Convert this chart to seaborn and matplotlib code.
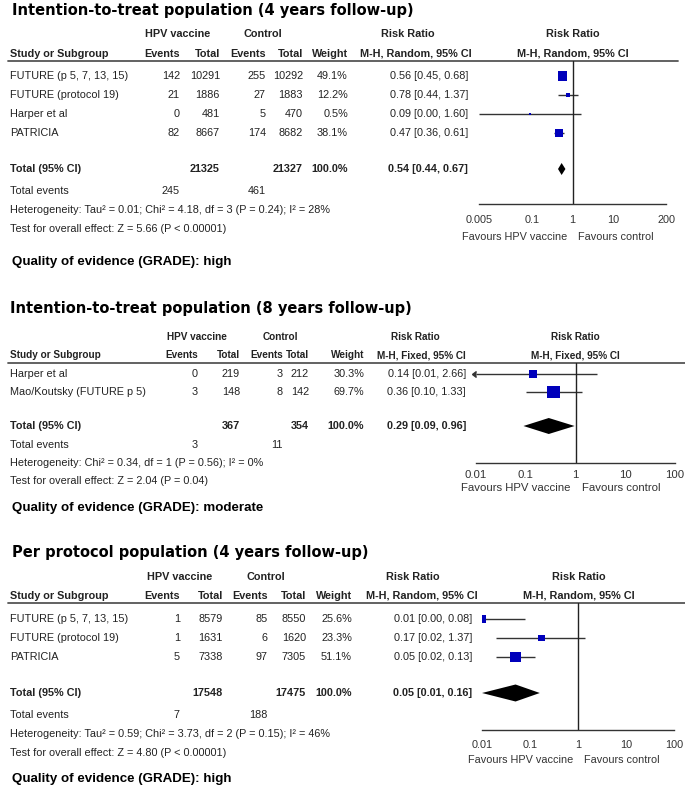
import numpy as np
import pandas as pd
import matplotlib
matplotlib.use("Agg")
import matplotlib.pyplot as plt
import seaborn as sns
from matplotlib.ticker import NullLocator

sns.set_style("white")

# ---- data: ITT 4 years ----
itt4_study = ["FUTURE (p 5, 7, 13, 15)", "FUTURE (protocol 19)", "Harper et al", "PATRICIA"]
itt4_vac_events = [142, 21, 0, 82]
itt4_vac_total = [10291, 1886, 481, 8667]
itt4_ctl_events = [255, 27, 5, 174]
itt4_ctl_total = [10292, 1883, 470, 8682]
itt4_weight = [49.1, 12.2, 0.5, 38.1]
itt4_rr = [0.56, 0.78, 0.09, 0.47]
itt4_lo = [0.45, 0.44, 0.00, 0.36]
itt4_hi = [0.68, 1.37, 1.60, 0.61]
itt4_pooled = [0.54, 0.44, 0.67]
itt4_totals = [21325, 21327]
itt4_events = [245, 461]

# ---- data: ITT 8 years ----
itt8_study = ["Harper et al", "Mao/Koutsky (FUTURE p 5)"]
itt8_vac_events = [0, 3]
itt8_vac_total = [219, 148]
itt8_ctl_events = [3, 8]
itt8_ctl_total = [212, 142]
itt8_weight = [30.3, 69.7]
itt8_rr = [0.14, 0.36]
itt8_lo = [0.01, 0.10]
itt8_hi = [2.66, 1.33]
itt8_pooled = [0.29, 0.09, 0.96]
itt8_totals = [367, 354]
itt8_events = [3, 11]

# ---- data: per protocol 4 years ----
pp4_study = ["FUTURE (p 5, 7, 13, 15)", "FUTURE (protocol 19)", "PATRICIA"]
pp4_vac_events = [1, 1, 5]
pp4_vac_total = [8579, 1631, 7338]
pp4_ctl_events = [85, 6, 97]
pp4_ctl_total = [8550, 1620, 7305]
pp4_weight = [25.6, 23.3, 51.1]
pp4_rr = [0.01, 0.17, 0.05]
pp4_lo = [0.00, 0.02, 0.02]
pp4_hi = [0.08, 1.37, 0.13]
pp4_pooled = [0.05, 0.01, 0.16]
pp4_totals = [17548, 17475]
pp4_events = [7, 188]

W, H = 685, 793
fig = plt.figure(figsize=(W / 100, H / 100), dpi=100)
bg = fig.add_axes([0, 0, 1, 1])
bg.set_xlim(0, W)
bg.set_ylim(H, 0)
bg.axis("off")

SANS = "Liberation Sans"
TITLE = "DejaVu Sans"
TXT = "#222222"
BLUE = "#0000bb"


def txt(x, y, s, ha="left", size=7.8, bold=False, family=SANS, color=TXT):
    bg.text(x, y, s, ha=ha, va="center", fontsize=size, family=family,
            fontweight="bold" if bold else "normal", color=color)


def panel(title, method, study, ve, vt, ce, ct, wt, rr, lo, hi, pooled, totals, events,
          het, test, grade, L):
    f, fs, hs = SANS, L["fs"], L["hs"]
    txt(L["tx"], L["title_y"], title, size=10.5, bold=True, family=TITLE, color="black")
    # header
    txt(L["hpv_c"], L["h1_y"], "HPV vaccine", "center", hs, True, f)
    txt(L["ctl_c"], L["h1_y"], "Control", "center", hs, True, f)
    txt(L["rrh_c"], L["h1_y"], "Risk Ratio", "center", hs, True, f)
    txt(L["frh_c"], L["h1_y"], "Risk Ratio", "center", hs, True, f)
    txt(10, L["h2_y"], "Study or Subgroup", "left", hs, True, f)
    c = L["cols"]
    for x, s in zip(c[:5], ["Events", "Total", "Events", "Total", "Weight"]):
        txt(x, L["h2_y"], s, "right", hs, True, f)
    txt(L["rrs_r"], L["h2_y"], method, "right", hs, True, f)
    txt(L["frh_c"], L["h2_y"], method, "center", hs, True, f)
    bg.plot([8, L["line_x1"]], [L["line_y"], L["line_y"]], color="#555555", lw=1.3)

    rows = np.arange(len(study))
    ys = L["row0"] + rows * L["step"]
    for i, y in enumerate(ys):
        txt(10, y, study[i], "left", fs, False, f)
        vals = [ve[i], vt[i], ce[i], ct[i], f"{wt[i]:.1f}%"]
        for x, v in zip(c[:5], vals):
            txt(x, y, str(v), "right", fs, False, f)
        txt(c[5], y, f"{rr[i]:.2f} [{lo[i]:.2f}, {hi[i]:.2f}]", "right", fs, False, f)
    ty = L["total_y"]
    txt(10, ty, "Total (95% CI)", "left", fs, True, f)
    txt(c[1], ty, str(totals[0]), "right", fs, True, f)
    txt(c[3], ty, str(totals[1]), "right", fs, True, f)
    txt(c[4], ty, "100.0%", "right", fs, True, f)
    txt(c[5], ty, f"{pooled[0]:.2f} [{pooled[1]:.2f}, {pooled[2]:.2f}]", "right", fs, True, f)
    txt(10, L["te_y"], "Total events", "left", fs, False, f)
    txt(c[0], L["te_y"], str(events[0]), "right", fs, False, f)
    txt(c[2], L["te_y"], str(events[1]), "right", fs, False, f)
    txt(10, L["het_y"], het, "left", fs, False, f)
    txt(10, L["test_y"], test, "left", fs, False, f)
    txt(12, L["q_y"], grade, "left", 9.6, True, SANS, "black")

    # forest plot axes, rows in index units
    x0, x1, y0, y1 = L["box"]
    ax = fig.add_axes([x0 / W, 1 - y1 / H, (x1 - x0) / W, (y1 - y0) / H])
    ax.patch.set_alpha(0)
    ax.set_xscale("log")
    xmin, xmax = L["xlim"]
    ax.set_xlim(xmin, xmax)
    step = L["step"]
    ax.set_ylim((y1 - L["row0"]) / step, (y0 - L["row0"]) / step)
    t_idx = (ty - L["row0"]) / step

    df = pd.DataFrame({"rr": rr, "row": rows, "weight": wt})
    sizes = {w: (max(L["k"] * np.sqrt(w), 2) * 0.72) ** 2 for w in wt}
    ax.hlines(rows, np.clip(lo, xmin, xmax), np.clip(hi, xmin, xmax), color="#333333", lw=1, zorder=2)
    sns.scatterplot(data=df, x="rr", y="row", size="weight", sizes=sizes, marker="s",
                    color=BLUE, linewidth=0, legend=False, ax=ax, zorder=3)
    if L["arrows"]:
        for r, l in zip(rows, lo):
            if l <= xmin:
                ax.plot(xmin, r, marker=8, ms=4, color="#333333", clip_on=False)
    dh = L["dh"] / 2 / step
    est, dlo, dhi = pooled
    ax.fill([dlo, est, dhi, est], [t_idx, t_idx - dh, t_idx, t_idx + dh], color="black", lw=0)
    ax.axvline(1, color="#222222", lw=1)

    ax.set_xticks(L["ticks"])
    ax.set_xticklabels(L["ticklabels"])
    ax.xaxis.set_minor_locator(NullLocator())
    ax.set_yticks([])
    ax.set_xlabel("")
    ax.set_ylabel("")
    for s in ["top", "left", "right"]:
        ax.spines[s].set_visible(False)
    ax.spines["bottom"].set_color("#333333")
    ax.spines["bottom"].set_linewidth(1)
    ax.tick_params(axis="x", direction="inout", length=8, width=1, colors="#333333",
                   labelsize=L["tfs"], pad=L["pad"])
    for lab in ax.get_xticklabels():
        lab.set_family(f)
    ax.annotate("Favours HPV vaccine", xy=(1, 0), xycoords=("data", "axes fraction"),
                xytext=(-5, -L["fav_off"]), textcoords="offset pixels", ha="right", va="center",
                fontsize=L["tfs"], family=f, color="#333333")
    ax.annotate("Favours control", xy=(1, 0), xycoords=("data", "axes fraction"),
                xytext=(6, -L["fav_off"]), textcoords="offset pixels", ha="left", va="center",
                fontsize=L["tfs"], family=f, color="#333333")


L1 = dict(fs=7.8, hs=7.8, tx=12, title_y=10, h1_y=34, h2_y=54, line_y=61, line_x1=678,
          row0=76, step=19, total_y=169, te_y=191, het_y=210, test_y=229, q_y=262,
          hpv_c=178, ctl_c=263, rrh_c=408, frh_c=573, rrs_r=472,
          cols=[180, 220, 266, 303, 348, 468],
          box=(479, 666, 61, 204), xlim=(0.005, 200), ticks=[0.005, 0.1, 1, 10, 200],
          ticklabels=["0.005", "0.1", "1", "10", "200"], k=1.35, dh=12, arrows=False,
          tfs=7.8, pad=4, fav_off=33)
L2 = dict(fs=7.8, hs=7.2, tx=10, title_y=309, h1_y=337, h2_y=355, line_y=363, line_x1=685,
          row0=374, step=18, total_y=426, te_y=445, het_y=463, test_y=481, q_y=508,
          hpv_c=197, ctl_c=280, rrh_c=415, frh_c=575, rrs_r=466,
          cols=[198, 240, 283, 309, 364, 466],
          box=(476, 675, 363, 463), xlim=(0.01, 100), ticks=[0.01, 0.1, 1, 10, 100],
          ticklabels=["0.01", "0.1", "1", "10", "100"], k=1.5, dh=16, arrows=True,
          tfs=8.2, pad=1, fav_off=25)
L3 = dict(fs=7.8, hs=7.8, tx=12, title_y=552, h1_y=577, h2_y=596, line_y=603, line_x1=685,
          row0=619, step=19, total_y=693, te_y=715, het_y=734, test_y=753, q_y=779,
          hpv_c=180, ctl_c=266, rrh_c=413, frh_c=579, rrs_r=478,
          cols=[180, 223, 268, 306, 352, 472],
          box=(482, 674, 603, 730), xlim=(0.01, 100), ticks=[0.01, 0.1, 1, 10, 100],
          ticklabels=["0.01", "0.1", "1", "10", "100"], k=1.45, dh=17, arrows=False,
          tfs=7.8, pad=3, fav_off=30)

panel("Intention-to-treat population (4 years follow-up)", "M-H, Random, 95% CI",
      itt4_study, itt4_vac_events, itt4_vac_total, itt4_ctl_events, itt4_ctl_total, itt4_weight,
      itt4_rr, itt4_lo, itt4_hi, itt4_pooled, itt4_totals, itt4_events,
      "Heterogeneity: Tau² = 0.01; Chi² = 4.18, df = 3 (P = 0.24); I² = 28%",
      "Test for overall effect: Z = 5.66 (P < 0.00001)",
      "Quality of evidence (GRADE): high", L1)
panel("Intention-to-treat population (8 years follow-up)", "M-H, Fixed, 95% CI",
      itt8_study, itt8_vac_events, itt8_vac_total, itt8_ctl_events, itt8_ctl_total, itt8_weight,
      itt8_rr, itt8_lo, itt8_hi, itt8_pooled, itt8_totals, itt8_events,
      "Heterogeneity: Chi² = 0.34, df = 1 (P = 0.56); I² = 0%",
      "Test for overall effect: Z = 2.04 (P = 0.04)",
      "Quality of evidence (GRADE): moderate", L2)
panel("Per protocol population (4 years follow-up)", "M-H, Random, 95% CI",
      pp4_study, pp4_vac_events, pp4_vac_total, pp4_ctl_events, pp4_ctl_total, pp4_weight,
      pp4_rr, pp4_lo, pp4_hi, pp4_pooled, pp4_totals, pp4_events,
      "Heterogeneity: Tau² = 0.59; Chi² = 3.73, df = 2 (P = 0.15); I² = 46%",
      "Test for overall effect: Z = 4.80 (P < 0.00001)",
      "Quality of evidence (GRADE): high", L3)

fig.savefig("out.png", dpi=100)
